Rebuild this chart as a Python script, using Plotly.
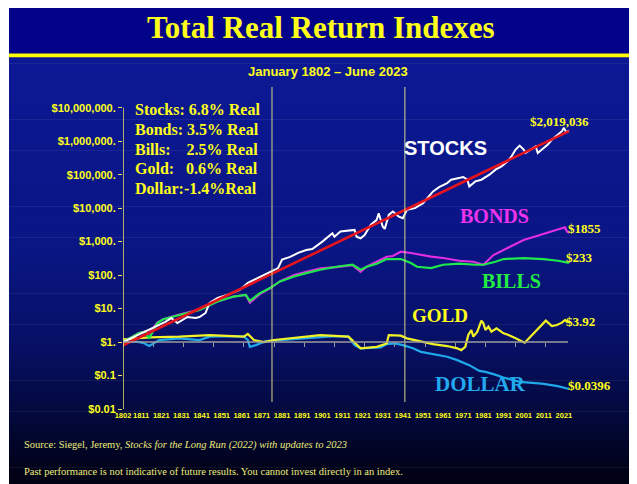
import plotly.graph_objects as go

# ── Data ──────────────────────────────────────────────────────
stock_years = [1802, 1808, 1815, 1823, 1826, 1829, 1834, 1838, 1840, 1843,
               1845, 1849, 1854, 1858, 1860, 1864, 1869, 1872, 1875, 1879,
               1881, 1885, 1889, 1893, 1896, 1901, 1906, 1907, 1910, 1917,
               1918, 1920, 1922, 1925, 1928, 1929, 1931, 1932, 1934, 1936,
               1939, 1941, 1943, 1947, 1951, 1954, 1956, 1959, 1963, 1965,
               1968, 1971, 1973, 1974, 1977, 1980, 1984, 1987, 1990, 1993,
               1995, 1997, 1999, 2001, 2002, 2005, 2007, 2008, 2011, 2013,
               2015, 2017, 2020, 2021, 2022, 2023.5]
stock_vals = [1.0, 1.5, 2.3, 4.0, 5.2, 3.7, 5.6, 5.2, 5.6, 7.4,
              14.8, 21, 26, 32, 36, 59, 83, 100, 126, 162,
              290, 350, 460, 560, 600, 1000, 1780, 1410, 2000, 2240,
              1410, 1260, 1580, 3160, 4470, 7080, 2820, 2400, 6300, 7940,
              5620, 5010, 8900, 10000, 14100, 22400, 31600, 42700, 56200, 70800,
              79400, 85100, 70800, 44700, 63100, 70800, 100000, 141000, 178000, 251000,
              355000, 562000, 741000, 560000, 447000, 589000, 708000, 447000, 631000, 794000,
              1120000, 1410000, 2000000, 2510000, 1900000, 2019036]

trend_years = [1802, 2023.5]
trend_vals = [0.8, 2000000]

bond_years = [1802, 1810, 1813, 1815, 1819, 1822, 1830, 1840, 1849, 1857,
              1863, 1865, 1870, 1875, 1880, 1887, 1893, 1900, 1908, 1916,
              1920, 1923, 1928, 1933, 1936, 1940, 1945, 1950, 1955, 1961,
              1969, 1976, 1981, 1986, 1991, 1996, 2001, 2007.5, 2014, 2020,
              2021.5, 2022.5, 2023.5]
bond_vals = [1.0, 1.86, 2.04, 1.8, 3.8, 4.8, 6.6, 9.3, 16.6, 23,
             25.7, 15, 27, 40, 66, 100, 126, 158, 174, 200,
             126, 178, 250, 355, 372, 500, 457, 398, 355, 324,
             269, 251, 204, 398, 562, 794, 1120, 1480, 2000, 2510,
             2690, 2000, 1855]

bill_years = [1802, 1810, 1813, 1815, 1819, 1822, 1830, 1840, 1849, 1857,
              1863, 1865, 1870, 1875, 1880, 1887, 1893, 1900, 1908, 1916,
              1920, 1923, 1928, 1933, 1940, 1945, 1948, 1955, 1961, 1969,
              1977, 1981, 1987, 1991, 2001, 2011, 2018, 2023.5]
bill_vals = [1.0, 1.86, 2.04, 1.29, 3.63, 4.79, 6.46, 9.1, 16.2, 22.9,
             25.7, 17, 29, 41, 65, 91, 115, 145, 178, 204,
             145, 178, 219, 302, 302, 229, 178, 162, 204, 219,
             204, 204, 251, 302, 324, 302, 269, 233]

gold_years = [1802, 1815, 1830, 1845, 1862, 1864, 1867, 1872, 1877, 1890,
              1900, 1914, 1918, 1920, 1928, 1933, 1934, 1940, 1943, 1950,
              1956, 1963, 1968, 1970, 1972, 1973.5, 1975, 1976, 1978, 1980,
              1981, 1982, 1983.5, 1985, 1987.5, 1991, 1993.5, 1997, 1999, 2001.5,
              2004, 2007.5, 2011, 2012, 2015, 2017.5, 2020, 2021.6, 2022.4, 2023.5]
gold_vals = [1.2, 1.38, 1.45, 1.62, 1.45, 1.74, 1.15, 1.0, 1.15, 1.38,
             1.62, 1.45, 0.81, 0.65, 0.72, 0.91, 1.62, 1.55, 1.29, 1.02,
             0.87, 0.76, 0.65, 0.575, 0.72, 1.62, 2.29, 1.45, 2.04, 4.37,
             3.63, 2.29, 2.88, 2.04, 2.57, 1.82, 1.62, 1.29, 1.1, 0.955,
             1.38, 2.29, 3.63, 4.37, 3.02, 3.24, 3.8, 4.57, 4.07, 3.92]

dollar_years = [1802, 1808, 1812, 1815, 1820, 1830, 1840, 1845, 1855, 1862,
                1864, 1865, 1868, 1873, 1880, 1890, 1900, 1907, 1914, 1917,
                1920, 1930, 1933, 1937, 1941, 1946, 1950, 1956, 1963, 1968,
                1974, 1979, 1982, 1986, 1991, 1999, 2010, 2018, 2021, 2023.5]
dollar_vals = [1.0, 1.05, 0.95, 0.76, 1.15, 1.29, 1.15, 1.45, 1.51, 1.45,
               1.15, 0.72, 0.81, 1.07, 1.15, 1.29, 1.45, 1.51, 1.45, 0.81,
               0.65, 0.69, 0.87, 0.91, 0.81, 0.65, 0.51, 0.427, 0.363, 0.288,
               0.204, 0.138, 0.129, 0.11, 0.087, 0.065, 0.0575, 0.048, 0.0437, 0.0396]

x_tick_years = [1802] + list(range(1811, 2022, 10))
y_tick_vals = [0.01, 0.1, 1, 10, 100, 1000, 10000, 100000, 1000000, 10000000]
y_tick_text = ["$0.01", "$0.1", "$1.", "$10.", "$100.", "$1,000.", "$10,000.",
               "$100,000.", "$1,000,000.", "$10,000,000."]

era_lines = [1876, 1942]

summary_lines = ["Stocks: 6.8% Real",
                 "Bonds: 3.5% Real",
                 "Bills:\u00a0\u00a0\u00a0\u00a02.5% Real",
                 "Gold:\u00a0\u00a0\u00a00.6% Real",
                 "Dollar:-1.4%Real"]
end_labels = ["$2,019,036", "$1855", "$233", "$3.92", "$0.0396"]

# ── Page geometry ─────────────────────────────────────────────
# the page puts the figure 8px in from the corner, so slide pixels are offset by OFF
W, H = 637, 484
OFF = 8
ML, MT = 123 - OFF, 86 - OFF
PW, PH = 451, 323
MR, MB = W - ML - PW, H - MT - PH
X_RANGE = [1802, 2026]
Y_RANGE = [-2, 7.65]

SERIF = "Liberation Serif"
SANS = "Liberation Sans"
YELLOW = "#ffff1a"


def px(x):
    return (x - OFF - ML) / PW


def py(y):
    return (MT + PH - (y - OFF)) / PH


def log_frac(lv):
    return (lv - Y_RANGE[0]) / (Y_RANGE[1] - Y_RANGE[0])


fig = go.Figure()

# ── Series ────────────────────────────────────────────────────
series = [
    (dollar_years, dollar_vals, "#1fa8ea", 2.2, "Dollar"),
    (gold_years, gold_vals, "#f2f224", 2.2, "Gold"),
    (bond_years, bond_vals, "#e22ee2", 2.2, "Bonds"),
    (bill_years, bill_vals, "#1ee84a", 2.2, "Bills"),
    (stock_years, stock_vals, "#ffffff", 2.0, "Stocks"),
    (trend_years, trend_vals, "#e8141c", 2.6, "Trend"),
]
for xs, ys, col, w, name in series:
    fig.add_trace(go.Scatter(x=xs, y=ys, mode="lines", name=name,
                             line=dict(color=col, width=w), hoverinfo="skip"))

# dummy trace so the $1 tick axis gets drawn
fig.add_trace(go.Scatter(x=[1802], y=[1], xaxis="x2", mode="markers",
                         marker=dict(opacity=0), hoverinfo="skip"))

# ── Background: white page, navy header, blue→black gradient ──
shapes = []
stops = [(57, (12, 24, 148)), (250, (10, 22, 132)), (350, (6, 15, 98)),
         (420, (3, 8, 56)), (492, (0, 0, 12))]


def grad_color(y):
    for (y0, c0), (y1, c1) in zip(stops[:-1], stops[1:]):
        if y <= y1:
            t = (y - y0) / (y1 - y0)
            return "rgb(%d,%d,%d)" % tuple(round(a + (b - a) * t) for a, b in zip(c0, c1))
    return "rgb(%d,%d,%d)" % stops[-1][1]


n = 70
step = (492 - 57) / n
for i in range(n):
    ya = 57 + i * step
    shapes.append(dict(type="rect", xref="paper", yref="paper", layer="below",
                       x0=px(9), x1=px(630), y0=py(ya), y1=py(ya + step + 0.6),
                       fillcolor=grad_color(ya + step / 2), line=dict(width=0)))
shapes.append(dict(type="rect", xref="paper", yref="paper", layer="below",
                   x0=px(9), x1=px(630), y0=py(0), y1=py(54),
                   fillcolor="#03038a", line=dict(width=0)))
shapes.append(dict(type="rect", xref="paper", yref="paper", layer="below",
                   x0=px(9), x1=px(630), y0=py(53.5), y1=py(57.3),
                   fillcolor="#ffff00", line=dict(width=0)))

# y axis line, era separators and the $1 baseline
shapes.append(dict(type="line", xref="x", yref="paper", x0=1802, x1=1802,
                   y0=0, y1=log_frac(7), line=dict(color="#e8e060", width=1.5)))
for yr in era_lines:
    shapes.append(dict(type="line", xref="x", yref="paper", x0=yr, x1=yr,
                       y0=py(402), y1=py(87), line=dict(color="#d6d68a", width=1)))
shapes.append(dict(type="line", xref="x", yref="paper", x0=1802, x1=2023,
                   y0=log_frac(0), y1=log_frac(0), line=dict(color="#9c9c9c", width=1.5)))

# ── Text ──────────────────────────────────────────────────────
ann = []


def add_text(text, x, y, size, color, family, xanchor="center", weight="bold"):
    ann.append(dict(text=text, x=px(x), y=py(y), xref="paper", yref="paper",
                    xanchor=xanchor, yanchor="middle", showarrow=False,
                    font=dict(size=size, color=color, family=family, weight=weight)))


add_text("Total Real Return Indexes", 321, 28, 31, YELLOW, SERIF)
add_text("January 1802 \u2013 June 2023", 328, 72, 13, YELLOW, SANS)

for i, line in enumerate(summary_lines):
    add_text(line, 133, 110 + i * 19.6, 16, YELLOW, SERIF, xanchor="left")

add_text("STOCKS", 445, 148, 20, "#ffffff", SANS)
add_text("BONDS", 494, 216, 20, "#ee33ee", SERIF)
add_text("BILLS", 511, 281, 20, "#22ee44", SERIF)
add_text("GOLD", 440, 315, 19, YELLOW, SERIF)
add_text("DOLLAR", 480, 384, 21, "#22aaee", SERIF)

end_pos = [(528, 122), (566, 228), (564, 257), (564, 321), (566, 385)]
for lbl, (ex, ey) in zip(end_labels, end_pos):
    add_text(lbl, ex, ey, 13, YELLOW, SERIF, xanchor="left")

add_text("Source: Siegel, Jeremy, <i>Stocks for the Long Run (2022) with updates to 2023</i>",
         22, 445, 10.5, "#ecec7a", SERIF, xanchor="left", weight="normal")
add_text("Past performance is not indicative of future results. You cannot invest directly in an index.",
         22, 471, 10.5, "#ecec7a", SERIF, xanchor="left", weight="normal")

# ── Layout ────────────────────────────────────────────────────
fig.update_layout(
    width=W, height=H,
    margin=dict(l=ML, r=MR, t=MT, b=MB, autoexpand=False),
    paper_bgcolor="#ffffff",
    plot_bgcolor="rgba(0,0,0,0)",
    showlegend=False,
    shapes=shapes,
    annotations=ann,
    xaxis=dict(range=X_RANGE, showgrid=False, zeroline=False, showline=False,
               tickmode="array", tickvals=x_tick_years, ticks="", tickangle=0,
               tickfont=dict(family=SANS, size=7.5, color=YELLOW, weight="bold")),
    xaxis2=dict(range=X_RANGE, overlaying="x", anchor="free", position=log_frac(0),
                showgrid=False, zeroline=False, showline=False, showticklabels=False,
                ticks="outside", ticklen=4, tickwidth=1, tickcolor="#9c9c9c",
                tick0=1802, dtick=15),
    yaxis=dict(type="log", range=Y_RANGE, showgrid=False, zeroline=False, showline=False,
               tickmode="array", tickvals=y_tick_vals, ticktext=y_tick_text,
               ticks="outside", ticklen=4, tickcolor="#e8e060",
               tickfont=dict(family=SANS, size=11, color=YELLOW, weight="bold")),
)

fig.write_html("out.html")
